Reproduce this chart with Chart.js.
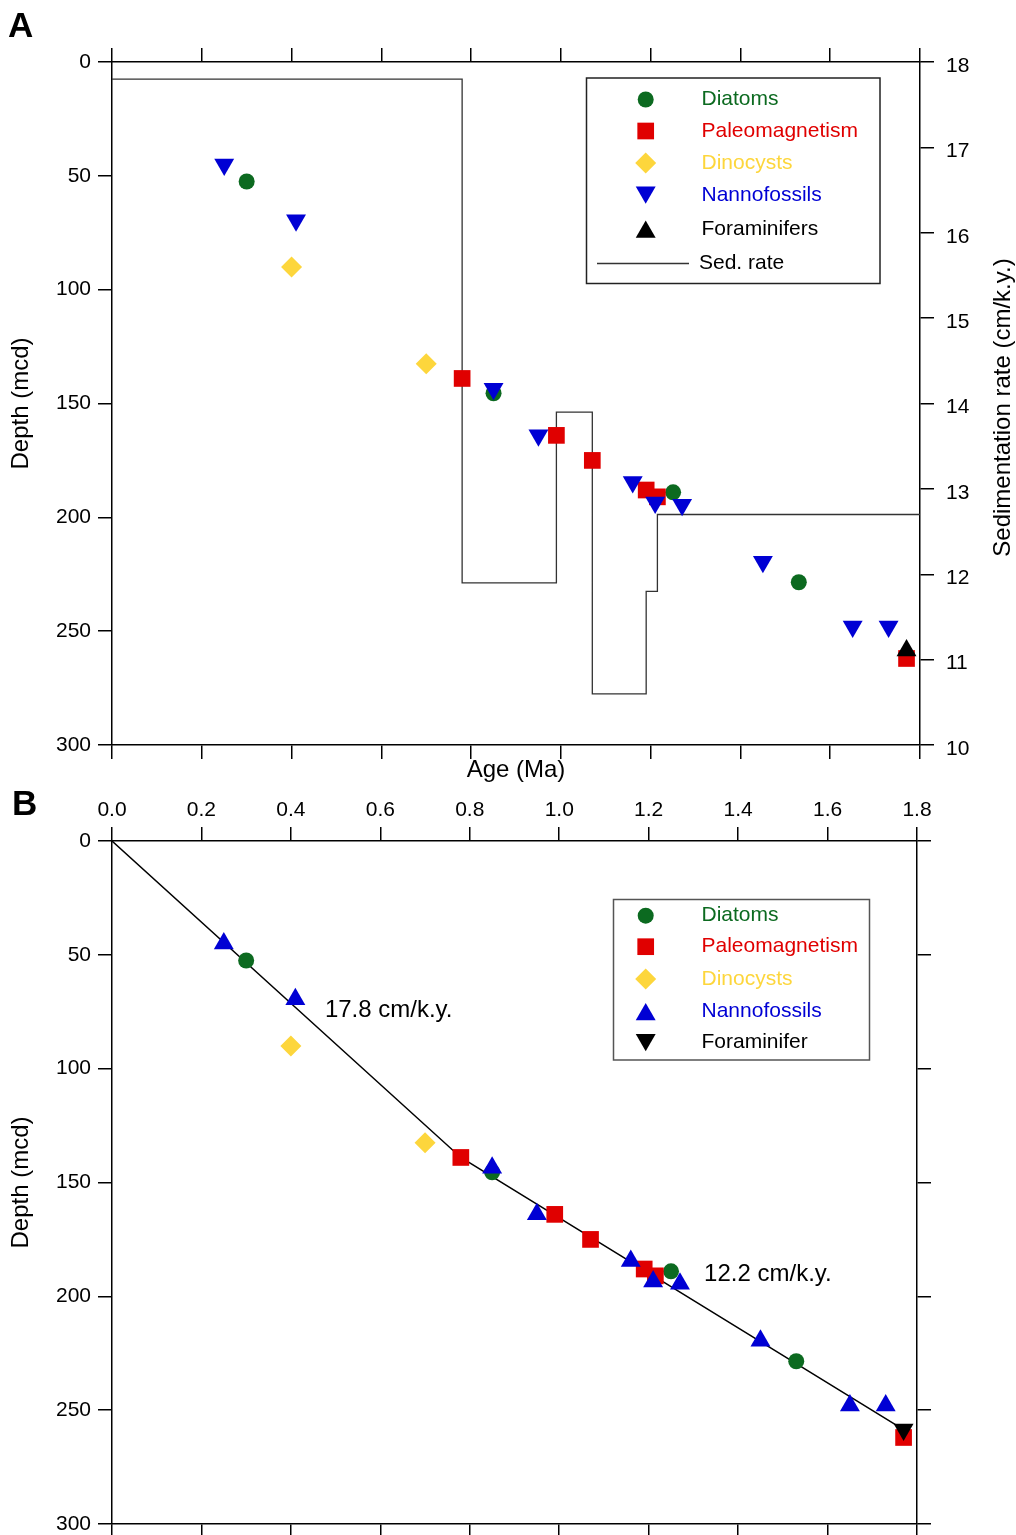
<!DOCTYPE html>
<html>
<head>
<meta charset="utf-8">
<script src="https://cdn.jsdelivr.net/npm/chart.js@4.4.1/dist/chart.umd.min.js"></script>
<style>
  html, body { margin: 0; padding: 0; background: #fff; }
  #wrap { position: relative; width: 1016px; height: 1535px; overflow: hidden; }
  canvas { position: absolute; left: 0; }
  #chartA { top: 0; }
  #chartB { top: 780px; }
</style>
</head>
<body>
<div id="wrap">
  <canvas id="chartA" width="1016" height="800"></canvas>
  <canvas id="chartB" width="1016" height="780"></canvas>
</div>
<script>
// values (age in Ma, depth in mcd)
const ageTicks   = [0, 0.2, 0.4, 0.6, 0.8, 1.0, 1.2, 1.4, 1.6, 1.8];
const depthTicks = [0, 50, 100, 150, 200, 250, 300];
const rateTicks  = [10, 11, 12, 13, 14, 15, 16, 17, 18];

const diatomAge   = [0.30, 0.85, 1.25, 1.53];
const diatomDepth = [52.5, 145.5, 189, 228.5];
const paleoAge    = [0.78, 0.99, 1.07, 1.19, 1.215, 1.77];
const paleoDepth  = [139, 164, 175, 188, 191, 262];
const dinoAge     = [0.40, 0.70];
const dinoDepth   = [90, 132.5];
const nannoAge    = [0.25, 0.41, 0.85, 0.95, 1.16, 1.21, 1.27, 1.45, 1.65, 1.73];
const nannoDepth  = [45, 69.5, 143.5, 164, 184.5, 193.5, 194.5, 219.5, 248, 248];
const foramAge    = [1.77];
const foramDepth  = [258.5];

// sedimentation rate (cm/k.y.), each value holds until the next age
const sedAge  = [0, 0.78, 0.99, 1.07, 1.19, 1.215, 1.8];
const sedRate = [17.8, 11.9, 13.9, 10.6, 11.8, 12.7, 12.7];

// age-depth model of panel B
const modelAge   = [0, 0.78, 1.77];
const modelDepth = [0, 139, 258.5];
const rateNotes  = ['17.8 cm/k.y.', '12.2 cm/k.y.'];

const FONT = '"Liberation Sans", Arial, Helvetica, sans-serif';
Chart.defaults.font.family = FONT;
Chart.defaults.color = '#000';

const GREEN = '#0c6a20', RED = '#e00000', YELLOW = '#fdd63c', BLUE = '#0000d4', BLACK = '#000';

const pts = (xs, ys) => xs.map((x, i) => ({ x: x, y: ys[i] }));
const setTicks = list => scale => { scale.ticks = list.map(v => ({ value: v })); };

function markerSet(label, xs, ys, color, style, radius, rotation, order) {
    return {
        label, data: pts(xs, ys), showLine: false,
        pointStyle: style, pointRadius: radius, pointHoverRadius: radius, pointRotation: rotation,
        pointBackgroundColor: color, pointBorderColor: color, pointBorderWidth: 0,
        backgroundColor: color, borderColor: color, order
    };
}

const grid = { drawOnChartArea: false, drawTicks: true, tickLength: 14, color: '#000', lineWidth: 1.5 };
const border = { display: true, color: '#000', width: 1.5 };

function drawMarker(ctx, style, r, rot, x, y, color) {
    ctx.save();
    ctx.fillStyle = color;
    ctx.beginPath();
    let a = rot * Math.PI / 180;
    if (style === 'circle') {
        ctx.arc(x, y, r, 0, Math.PI * 2);
    } else if (style === 'rect') {
        const s = Math.SQRT1_2 * r;
        ctx.rect(x - s, y - s, 2 * s, 2 * s);
    } else if (style === 'rectRot') {
        ctx.moveTo(x - r, y); ctx.lineTo(x, y - r); ctx.lineTo(x + r, y); ctx.lineTo(x, y + r);
        ctx.closePath();
    } else if (style === 'triangle') {
        // keep the triangle's box centred on the row
        y += (rot === 180 ? -r : r) / 4;
        for (let k = 0; k < 3; k++) {
            const px = x + Math.sin(a) * r, py = y - Math.cos(a) * r;
            if (k) ctx.lineTo(px, py); else ctx.moveTo(px, py);
            a += Math.PI * 2 / 3;
        }
        ctx.closePath();
    }
    ctx.fill();
    ctx.restore();
}

// panel letter, notes, right title and boxed legend
const decor = {
    id: 'decor',
    afterDraw(chart, args, opts) {
        const ctx = chart.ctx;
        const area = chart.chartArea;
        ctx.save();
        ctx.fillStyle = '#000';
        if (opts.letter) {
            ctx.font = 'bold 35px ' + FONT;
            ctx.textAlign = 'left';
            ctx.textBaseline = 'alphabetic';
            ctx.fillText(opts.letter.text, opts.letter.x, opts.letter.y);
        }
        (opts.notes || []).forEach(n => {
            ctx.font = '24px ' + FONT;
            ctx.textAlign = 'left';
            ctx.textBaseline = 'middle';
            ctx.fillText(n.text, chart.scales.x.getPixelForValue(n.age), chart.scales.y.getPixelForValue(n.depth));
        });
        if (opts.rightTitle) {
            ctx.save();
            ctx.translate(opts.rightTitle.x, (area.top + area.bottom) / 2 + 4);
            ctx.rotate(-Math.PI / 2);
            ctx.font = '24px ' + FONT;
            ctx.textAlign = 'center';
            ctx.textBaseline = 'middle';
            ctx.fillText(opts.rightTitle.text, 0, 0);
            ctx.restore();
        }
        const lg = opts.legend;
        if (lg) {
            ctx.strokeStyle = lg.boxColor;
            ctx.lineWidth = 1.5;
            ctx.strokeRect(lg.box[0], lg.box[1], lg.box[2] - lg.box[0], lg.box[3] - lg.box[1]);
            ctx.font = '21px ' + FONT;
            ctx.textAlign = 'left';
            ctx.textBaseline = 'middle';
            const marks = chart.data.datasets.filter(d => !d.showLine);
            marks.forEach((d, i) => {
                const y = lg.rows[i];
                drawMarker(ctx, d.pointStyle, d.pointRadius, d.pointRotation, lg.markerX, y, d.backgroundColor);
                ctx.fillStyle = d.backgroundColor;
                ctx.fillText(d.label, lg.textX, y);
            });
            if (lg.line) {
                const d = chart.data.datasets.find(s => s.showLine);
                ctx.strokeStyle = d.borderColor;
                ctx.lineWidth = d.borderWidth;
                ctx.beginPath();
                ctx.moveTo(lg.line.x1, lg.line.y);
                ctx.lineTo(lg.line.x2, lg.line.y);
                ctx.stroke();
                ctx.fillStyle = '#000';
                ctx.fillText(d.label, lg.line.textX, lg.line.y);
            }
        }
        ctx.restore();
    }
};

const depthAxis = (withLabels, width, titleText) => ({
    axis: 'y', type: 'linear', reverse: true, min: 0, max: 300,
    afterBuildTicks: setTicks(depthTicks),
    ticks: { display: withLabels, padding: 7, font: { size: 21 } },
    grid, border,
    title: { display: !!titleText, text: titleText || '', font: { size: 24 }, padding: { top: 7, bottom: 0 } },
    afterFit: s => { s.width = width; }
});

const ageAxis = (position, withLabels, height, title) => ({
    axis: 'x', type: 'linear', position, min: 0, max: 1.8,
    afterBuildTicks: setTicks(ageTicks),
    ticks: { display: withLabels, padding: 4, maxRotation: 0, autoSkip: false, font: { size: 21 },
             callback: v => v.toFixed(1) },
    grid, border,
    title: title ? { display: true, text: title, font: { size: 24 }, padding: { top: 0, bottom: 15 } } : { display: false },
    afterFit: s => { s.height = height; }
});

// Panel A: datums with sedimentation rate
new Chart(document.getElementById('chartA'), {
    type: 'scatter',
    data: {
        datasets: [
            markerSet('Diatoms', diatomAge, diatomDepth, GREEN, 'circle', 8, 0, 5),
            markerSet('Paleomagnetism', paleoAge, paleoDepth, RED, 'rect', 11.8, 0, 3),
            markerSet('Dinocysts', dinoAge, dinoDepth, YELLOW, 'rectRot', 10.5, 0, 4),
            markerSet('Nannofossils', nannoAge, nannoDepth, BLUE, 'triangle', 11.5, 180, 2),
            markerSet('Foraminifers', foramAge, foramDepth, BLACK, 'triangle', 11.5, 0, 1),
            {
                type: 'line', label: 'Sed. rate', data: pts(sedAge, sedRate), yAxisID: 'yRate',
                showLine: true, stepped: 'before', borderColor: '#333', backgroundColor: '#333',
                borderWidth: 1.3, pointRadius: 0, fill: false, order: 6
            }
        ]
    },
    options: {
        responsive: false, animation: false, devicePixelRatio: 1,
        layout: { padding: 0 },
        scales: {
            x: ageAxis('bottom', false, 55, 'Age (Ma)'),
            xTop: ageAxis('top', false, 62, null),
            y: Object.assign(depthAxis(true, 112, 'Depth (mcd)'), { position: 'left' }),
            yRate: {
                axis: 'y', type: 'linear', position: 'right', min: 10, max: 18,
                afterBuildTicks: setTicks(rateTicks),
                ticks: { padding: 12, labelOffset: 4, font: { size: 21 } },
                grid, border,
                afterFit: s => { s.width = 96; }
            }
        },
        plugins: {
            legend: { display: false },
            tooltip: { enabled: false },
            decor: {
                letter: { text: 'A', x: 8, y: 37 },
                rightTitle: { text: 'Sedimentation rate (cm/k.y.)', x: 1003 },
                legend: {
                    box: [586.5, 78, 880, 283.5], boxColor: '#222',
                    markerX: 645.7, textX: 701.5,
                    rows: [99.5, 131, 163, 195, 229],
                    line: { x1: 597, x2: 689, y: 263.5, textX: 699 }
                }
            }
        }
    },
    plugins: [decor]
});

// Panel B: age-depth model
new Chart(document.getElementById('chartB'), {
    type: 'scatter',
    data: {
        datasets: [
            markerSet('Diatoms', diatomAge, diatomDepth, GREEN, 'circle', 8, 0, 5),
            markerSet('Paleomagnetism', paleoAge, paleoDepth, RED, 'rect', 11.8, 0, 3),
            markerSet('Dinocysts', dinoAge, dinoDepth, YELLOW, 'rectRot', 10.5, 0, 4),
            markerSet('Nannofossils', nannoAge, nannoDepth, BLUE, 'triangle', 11.5, 0, 2),
            markerSet('Foraminifer', foramAge, foramDepth, BLACK, 'triangle', 11.5, 180, 1),
            {
                type: 'line', label: 'Age model', data: pts(modelAge, modelDepth),
                showLine: true, borderColor: '#000', backgroundColor: '#000',
                borderWidth: 1.5, pointRadius: 0, fill: false, order: 6
            }
        ]
    },
    options: {
        responsive: false, animation: false, devicePixelRatio: 1,
        layout: { padding: 0 },
        scales: {
            x: ageAxis('bottom', false, 36, null),
            xTop: ageAxis('top', true, 61, null),
            y: Object.assign(depthAxis(true, 112, 'Depth (mcd)'), { position: 'left' }),
            yR: Object.assign(depthAxis(false, 99, null), { position: 'right' })
        },
        plugins: {
            legend: { display: false },
            tooltip: { enabled: false },
            decor: {
                letter: { text: 'B', x: 12, y: 35 },
                notes: [
                    { text: rateNotes[0], age: 0.476, depth: 74.4 },
                    { text: rateNotes[1], age: 1.324, depth: 190.4 }
                ],
                legend: {
                    box: [613.5, 119.5, 869.5, 280], boxColor: '#555',
                    markerX: 645.7, textX: 701.5,
                    rows: [135.7, 166.7, 199, 231.5, 262.5],
                    line: null
                }
            }
        }
    },
    plugins: [decor]
});
</script>
</body>
</html>
